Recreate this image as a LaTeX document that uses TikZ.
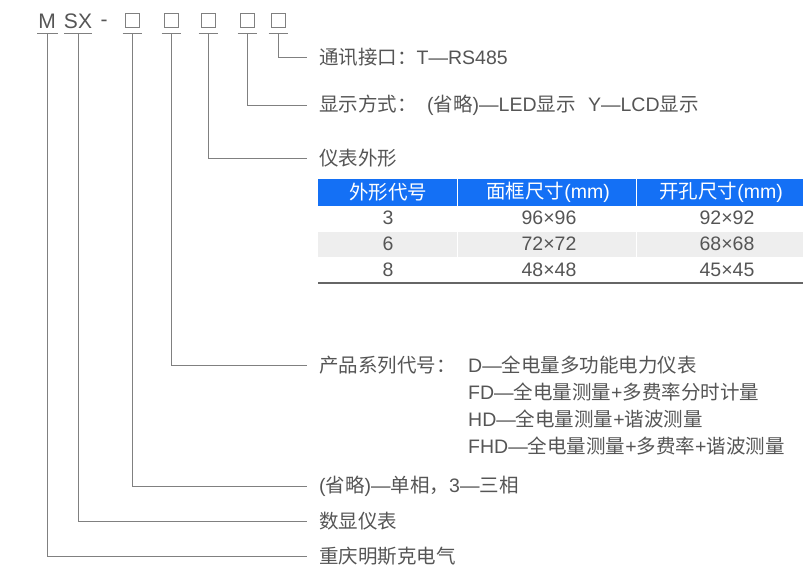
\documentclass[tikz,border=0pt]{standalone}
\usepackage{fontspec}
\setmainfont{Noto Sans CJK SC}
\newfontfamily\latin{Liberation Sans}
\usetikzlibrary{positioning}

\definecolor{txtgray}{RGB}{85,85,85}
\definecolor{linegray}{RGB}{128,128,128}
\definecolor{headblue}{RGB}{20,112,245}
\definecolor{rowgray}{RGB}{238,238,238}
\newcommand{\emd}{{\latin —}}

\begin{document}
\begin{tikzpicture}[x=1pt,y=-1pt,
    font=\fontsize{19.5}{23}\selectfont, text=txtgray,
    lead/.style={draw=linegray, line width=0.9pt},
    codebox/.style={draw=linegray, line width=0.8pt, minimum size=14pt, inner sep=0pt},
    codechar/.style={inner sep=0pt, font=\fontsize{21}{24}\selectfont\latin},
    desc/.style={anchor=west, inner xsep=12pt, inner ysep=0pt},
    subline/.style={anchor=west, inner sep=0pt},
    head/.style={text=white, inner sep=0pt},
    cell/.style={inner sep=0pt}
  ]
  \useasboundingbox (0,0) rectangle (808,568);

  % model code
  \node[codechar] (m) at (47,21) {M};
  \node[codechar] (sx) at (78,21) {SX};
  \node[codechar] (dash) at (104,23.5) {-};
  \foreach \n/\x in {1/132,2/171,3/208,4/247,5/278}
    \node[codebox] (b\n) at (\x,20) {};

  % underlines
  \coordinate (um) at (47,33);
  \coordinate (usx) at (78,33);
  \draw[lead] ([xshift=-10pt]um) -- ([xshift=11pt]um);
  \draw[lead] ([xshift=-14pt]usx) -- ([xshift=14pt]usx);
  \foreach \n/\x in {1/132,2/171,3/208,4/247,5/278} {
    \coordinate (u\n) at (\x,33);
    \draw[lead] ([xshift=-9.5pt]u\n) -- ([xshift=9.5pt]u\n);
  }

  % descriptions
  \node[desc] (d5) at (307,57) {通讯接口：{\latin T}\emd{\latin RS485}};
  \node[desc] (d4) at (307,105) {显示方式：\hspace{10.5pt}{\latin(}省略{\latin)}\emd{\latin LED}显示\hspace{12.5pt}{\latin Y}\emd{\latin LCD}显示};
  \node[desc] (d3) at (307,158) {仪表外形};
  \node[desc] (d2) at (307,365) {产品系列代号：};
  \node[subline] (s1) at (468,365) {{\latin D}\emd 全电量多功能电力仪表};
  \node[subline] (s2) at (468,392) {{\latin FD}\emd 全电量测量{\latin +}多费率分时计量};
  \node[subline] (s3) at (468,419) {{\latin HD}\emd 全电量测量{\latin +}谐波测量};
  \node[subline] (s4) at (468,446) {{\latin FHD}\emd 全电量测量{\latin +}多费率{\latin +}谐波测量};
  \node[desc] (d1) at (307,486) {{\latin(}省略{\latin)}\emd 单相，{\latin 3}\emd 三相};
  \node[desc] (dsx) at (307,521) {数显仪表};
  \node[desc] (dm) at (307,556) {重庆明斯克电气};

  % leader lines
  \draw[lead] (u5) |- (d5.west);
  \draw[lead] (u4) |- (d4.west);
  \draw[lead] (u3) |- (d3.west);
  \draw[lead] (u2) |- (d2.west);
  \draw[lead] (u1) |- (d1.west);
  \draw[lead] (usx) |- (dsx.west);
  \draw[lead] (um) |- (dm.west);

  % size table
  \fill[headblue] (318,179) rectangle (803,206);
  \fill[rowgray] (318,231) rectangle (803,257);
  \draw[white, line width=1pt] (457,179) -- (457,283) (636,179) -- (636,283);
  \draw[white, line width=1pt] (318,206) -- (803,206) (318,231) -- (803,231) (318,257) -- (803,257);
  \draw[black!60, line width=1.2pt] (318,283) -- (803,283);
  \node[head] (h1) at (388,192) {外形代号};
  \node[head] (h2) at (548,192) {面框尺寸{\latin(mm)}};
  \node[head] (h3) at (721,192) {开孔尺寸{\latin(mm)}};
  \foreach \r/\y/\a/\b/\c in {1/218/3/96×96/92×92, 2/244/6/72×72/68×68, 3/270/8/48×48/45×45} {
    \node[cell] (r\r a) at (388,\y) {\latin \a};
    \node[cell] (r\r b) at (549,\y) {\latin \b};
    \node[cell] (r\r c) at (727,\y) {\latin \c};
  }
\end{tikzpicture}
\end{document}
